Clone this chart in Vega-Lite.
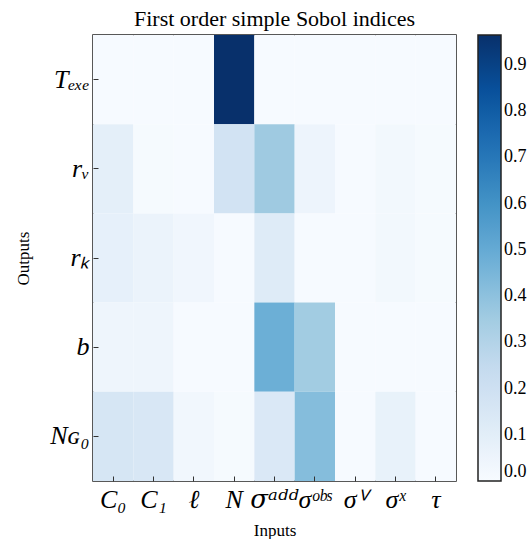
{
  "$schema": "https://vega.github.io/schema/vega-lite/v6.json",
  "width": 363,
  "height": 446,
  "autosize": "none",
  "padding": {"left": 93, "top": 35, "right": 75, "bottom": 58},
  "background": "white",
  "title": {"text": "First order simple Sobol indices", "font": "Liberation Serif", "fontSize": 22, "fontWeight": "normal", "color": "black", "offset": 4},
  "data": {"values": [
    {"output": "Tₑₓₑ", "input": "C₀", "S1": 0.005},
    {"output": "Tₑₓₑ", "input": "C₁", "S1": 0.005},
    {"output": "Tₑₓₑ", "input": "ℓ", "S1": 0.005},
    {"output": "Tₑₓₑ", "input": "N", "S1": 0.965},
    {"output": "Tₑₓₑ", "input": "σᵃᵈᵈ", "S1": 0.005},
    {"output": "Tₑₓₑ", "input": "σᵒᵇˢ", "S1": 0.005},
    {"output": "Tₑₓₑ", "input": "σⱽ", "S1": 0.005},
    {"output": "Tₑₓₑ", "input": "σˣ", "S1": 0.005},
    {"output": "Tₑₓₑ", "input": "τ", "S1": 0.005},
    {"output": "rᵥ", "input": "C₀", "S1": 0.09},
    {"output": "rᵥ", "input": "C₁", "S1": 0.01},
    {"output": "rᵥ", "input": "ℓ", "S1": 0.005},
    {"output": "rᵥ", "input": "N", "S1": 0.18},
    {"output": "rᵥ", "input": "σᵃᵈᵈ", "S1": 0.36},
    {"output": "rᵥ", "input": "σᵒᵇˢ", "S1": 0.05},
    {"output": "rᵥ", "input": "σⱽ", "S1": 0.005},
    {"output": "rᵥ", "input": "σˣ", "S1": 0.025},
    {"output": "rᵥ", "input": "τ", "S1": 0.01},
    {"output": "rₖ", "input": "C₀", "S1": 0.08},
    {"output": "rₖ", "input": "C₁", "S1": 0.06},
    {"output": "rₖ", "input": "ℓ", "S1": 0.035},
    {"output": "rₖ", "input": "N", "S1": 0.005},
    {"output": "rₖ", "input": "σᵃᵈᵈ", "S1": 0.12},
    {"output": "rₖ", "input": "σᵒᵇˢ", "S1": 0.005},
    {"output": "rₖ", "input": "σⱽ", "S1": 0.005},
    {"output": "rₖ", "input": "σˣ", "S1": 0.025},
    {"output": "rₖ", "input": "τ", "S1": 0.01},
    {"output": "b", "input": "C₀", "S1": 0.045},
    {"output": "b", "input": "C₁", "S1": 0.045},
    {"output": "b", "input": "ℓ", "S1": 0.005},
    {"output": "b", "input": "N", "S1": 0.005},
    {"output": "b", "input": "σᵃᵈᵈ", "S1": 0.48},
    {"output": "b", "input": "σᵒᵇˢ", "S1": 0.35},
    {"output": "b", "input": "σⱽ", "S1": 0.005},
    {"output": "b", "input": "σˣ", "S1": 0.005},
    {"output": "b", "input": "τ", "S1": 0.005},
    {"output": "N_G0", "input": "C₀", "S1": 0.16},
    {"output": "N_G0", "input": "C₁", "S1": 0.15},
    {"output": "N_G0", "input": "ℓ", "S1": 0.03},
    {"output": "N_G0", "input": "N", "S1": 0.01},
    {"output": "N_G0", "input": "σᵃᵈᵈ", "S1": 0.14},
    {"output": "N_G0", "input": "σᵒᵇˢ", "S1": 0.42},
    {"output": "N_G0", "input": "σⱽ", "S1": 0.005},
    {"output": "N_G0", "input": "σˣ", "S1": 0.07},
    {"output": "N_G0", "input": "τ", "S1": 0.005}
  ]},
  "mark": {"type": "rect"},
  "encoding": {
    "x": {
      "field": "input", "type": "nominal",
      "sort": ["C₀", "C₁", "ℓ", "N", "σᵃᵈᵈ", "σᵒᵇˢ", "σⱽ", "σˣ", "τ"],
      "scale": {"paddingInner": 0, "paddingOuter": 0},
      "axis": {
        "title": "Inputs", "titleFont": "Liberation Serif", "titleFontSize": 17, "titleFontWeight": "normal", "titleColor": "black", "titlePadding": 10,
        "labelFont": {"condition": {"test": "datum.value == 'σᵃᵈᵈ'", "value": "DejaVu Serif"}, "value": "Liberation Serif"},
        "labelFontStyle": "italic", "labelFontSize": 26, "labelColor": "black", "labelAngle": 0, "labelPadding": 5,
        "domain": false, "tickColor": "#333", "tickSize": 5, "offset": -5, "labelOverlap": false
      }
    },
    "y": {
      "field": "output", "type": "nominal",
      "sort": ["Tₑₓₑ", "rᵥ", "rₖ", "b", "N_G0"],
      "scale": {"paddingInner": 0, "paddingOuter": 0},
      "axis": {
        "title": "Outputs", "titleFont": "Liberation Serif", "titleFontSize": 17, "titleFontWeight": "normal", "titleColor": "black", "titlePadding": 17,
        "labelFont": "Liberation Serif", "labelFontStyle": "italic", "labelFontSize": 26, "labelColor": "black", "labelPadding": 4,
        "labelExpr": "datum.value == 'N_G0' ? 'N' + '\u0262' + '₀' : datum.value",
        "domain": false, "tickColor": "#333", "tickSize": 5, "offset": -5
      }
    },
    "color": {
      "field": "S1", "type": "quantitative",
      "scale": {
        "domain": [0, 0.120625, 0.24125, 0.361875, 0.4825, 0.603125, 0.72375, 0.844375, 0.965],
        "range": ["#f7fbff", "#deebf7", "#c6dbef", "#9ecae1", "#6baed6", "#4292c6", "#2171b5", "#08519c", "#08306b"],
        "interpolate": "rgb"
      },
      "legend": {
        "title": null, "direction": "vertical", "gradientLength": 446, "gradientThickness": 23,
        "gradientStrokeColor": "#222", "gradientStrokeWidth": 1.5,
        "values": [0, 0.1, 0.2, 0.3, 0.4, 0.5, 0.6, 0.7, 0.8, 0.9], "format": ".1f",
        "labelFont": "Liberation Serif", "labelFontSize": 18, "labelColor": "black", "labelOffset": 3,
        "labelOverlap": false, "offset": 22, "padding": 0
      }
    }
  },
  "config": {"view": {"stroke": "#222", "strokeWidth": 1.5}, "legend": {"labelFont": "Liberation Serif"}}
}
